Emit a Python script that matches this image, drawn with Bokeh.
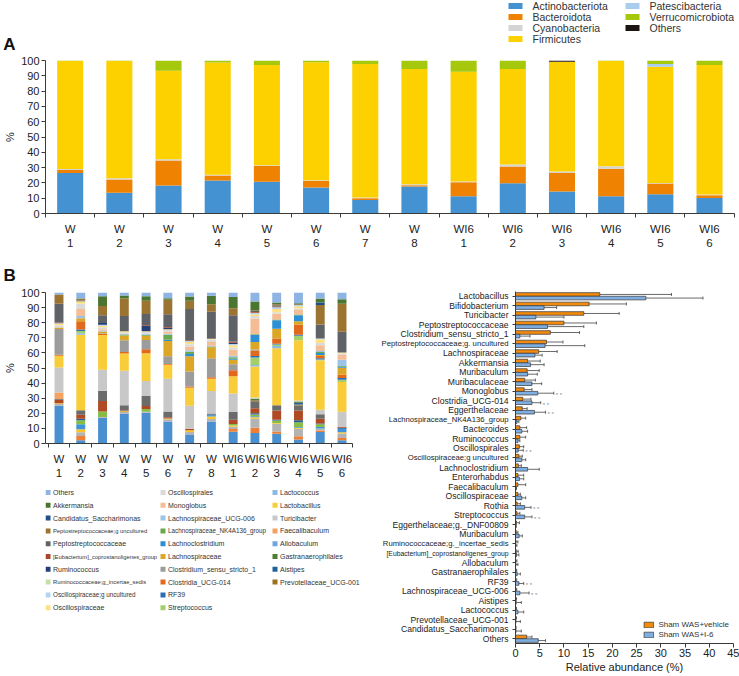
from bokeh.plotting import figure
from bokeh.models import (ColumnDataSource, Range1d, FixedTicker, LinearAxis, Legend,
                          LegendItem, Whisker, TeeHead)
from bokeh.layouts import column, row
from bokeh.embed import file_html
from bokeh.resources import INLINE
from bokeh.core.properties import value

FONT = "Liberation Sans"

# ---------------- data ----------------
samples = ["W 1", "W 2", "W 3", "W 4", "W 5", "W 6", "W 7", "W 8",
           "WI6 1", "WI6 2", "WI6 3", "WI6 4", "WI6 5", "WI6 6"]
pct_ticks = [0, 10, 20, 30, 40, 50, 60, 70, 80, 90, 100]
abund_ticks = [0, 5, 10, 15, 20, 25, 30, 35, 40, 45]

# Panel A (phylum level, %)
phyla = ["Actinobacteriota", "Bacteroidota", "Cyanobacteria", "Firmicutes",
         "Patescibacteria", "Verrucomicrobiota", "Others"]
actinobacteriota = [26.5, 13.5, 18.3, 21.5, 20.7, 17.0, 8.9, 17.6, 11.3, 19.8, 14.3, 11.3, 12.6, 10.2]
bacteroidota = [2.0, 8.7, 16.3, 3.3, 10.4, 4.3, 1.1, 0.9, 9.1, 10.9, 12.2, 18.0, 7.0, 1.8]
cyanobacteria = [0.6, 0.8, 0.8, 0.6, 0.4, 0.4, 0.4, 0.6, 0.5, 1.3, 0.9, 1.6, 0.3, 0.4]
firmicutes = [70.6, 76.7, 57.9, 73.3, 65.5, 77.1, 87.3, 75.3, 71.7, 62.4, 71.8, 68.8, 76.0, 84.6]
patescibacteria = [0, 0, 0, 0, 0, 0, 0, 0, 0, 0, 0, 0, 1.8, 0]
verrucomicrobiota = [0.3, 0.3, 6.7, 1.3, 3.0, 1.2, 2.3, 5.6, 7.4, 5.6, 0, 0.3, 2.3, 3.0]
others_phylum = [0, 0, 0, 0, 0, 0, 0, 0, 0, 0, 0.8, 0, 0, 0]
phylum_colors = ["#4592d2", "#ef8200", "#d4d4d4", "#fdd100", "#a9cdee", "#a5c80c", "#1c1412"]

# Panel B (genus level, %), stacked bottom -> top
bifidobacterium = [25, 2.2, 17, 19.7, 20.4, 14.6, 5.6, 14.5, 7.8, 7, 6.5, 2.6, 7.6, 2.2]
muribaculum = [0, 2.8, 0, 0, 0, 0, 0, 0, 1.8, 3.4, 1.5, 2.2, 1, 1.4]
muribaculaceae = [1.2, 2.5, 0.6, 1.2, 0.6, 1.4, 2, 1.8, 1.5, 6, 5, 5, 1.4, 3]
eggerthelaceae = [0.5, 2, 0, 0.4, 0, 0.6, 1.2, 1.6, 0.8, 1, 0.5, 0.6, 0, 0.8]
bacteroides = [0, 3.3, 0, 0, 0, 0, 0, 0.8, 0, 0.6, 0, 0.5, 1, 2.4]
enterorhabdus = [0, 2.6, 3.6, 0, 1.8, 0, 0, 0, 1, 1.2, 1.8, 3.2, 1.8, 0]
rothia = [0, 1, 0, 0, 0, 0, 0, 0.5, 0, 0.8, 0.5, 1.3, 0.4, 0.6]
eggerthelaceae_dnf00809 = [2.2, 2.6, 7, 0.6, 2, 0.8, 1, 0, 2.8, 3.4, 6, 6.4, 3.2, 0.5]
muribaculum_b = [0.6, 3, 6.8, 3.4, 6.6, 3.8, 0, 0.6, 5.4, 4.6, 3.5, 3.4, 3, 0]
prevotellaceae_ucg001 = [0, 0, 0, 0, 0, 0, 0, 0, 0, 0.6, 0, 0.6, 0, 0]
aistipes = [0, 0, 0, 0, 0, 0, 0, 0, 0, 0, 0, 1.2, 0, 0]
gastranaerophilales = [0, 0, 0, 0, 0, 0, 0, 0, 0, 1, 0, 0.8, 0, 0]
allobaculum = [0, 0, 0, 0, 0, 0, 0, 0, 0, 0, 0, 0, 0, 0]
faecalibaculum = [4.3, 0, 0, 0, 0, 0, 0, 0, 0, 0, 0, 0, 0, 0]
turicibacter = [16.5, 0, 13.8, 22.8, 10, 21.6, 15.2, 15, 12, 0.8, 0, 0.6, 3, 10.2]
lactobacillus = [7.8, 50, 23, 11.5, 18.4, 9.4, 12, 8, 11.4, 20.6, 37.7, 40, 32.6, 19.7]
lactococcus = [0, 1, 0, 0, 0, 0, 0, 0, 0, 1, 1.5, 0, 0, 0]
streptococcus = [0, 1.5, 0, 0, 0, 0, 0, 0, 0, 5, 1, 3, 0.6, 1.5]
rf39 = [0, 1, 0, 0, 0, 0, 0, 0, 0, 1, 0.5, 0.6, 0.8, 1]
clostridia_ucg014 = [0.7, 5.5, 0.8, 1, 2.6, 0.5, 0.7, 1, 4, 3.6, 3.5, 6.6, 1.6, 2.3]
clostridium_ss1 = [17, 0, 0.4, 7.8, 6.2, 5, 10, 12.7, 4, 0.6, 0, 0, 0, 0]
lachnospiraceae = [1, 2, 1.2, 3.2, 2.8, 10.2, 10, 7.3, 3, 5, 6.5, 2.4, 0.6, 4.6]
lachnoclostridium = [0, 0, 0, 0, 0, 0.8, 1.5, 0, 0.6, 4.6, 5.6, 4, 1.4, 0.6]
lachno_nk4a136 = [0, 0, 0, 0.6, 0.6, 3.4, 1.6, 0.5, 1, 0.6, 0.6, 0.4, 0.6, 0.6]
lachno_ucg006 = [0, 1.5, 0.6, 0.5, 0.6, 0.6, 1, 0.5, 1, 0, 0, 0, 0.6, 4]
monoglobus = [0, 4.5, 0.8, 0, 0, 1.5, 2.5, 2.5, 4, 10.4, 3.8, 3, 3.8, 3.2]
oscillospirales = [1.5, 3.5, 1.4, 1, 1.2, 1, 1.5, 1.5, 1.5, 1.6, 1, 1, 1.5, 1]
oscillospiraceae = [1, 1.2, 1, 0.6, 0.6, 0.5, 1.5, 0.5, 1.5, 1.2, 2, 1.5, 2.5, 0.6]
oscillospiraceae_g_unc = [0.3, 0, 0.6, 0, 0, 0, 0.5, 0, 0.8, 1, 1.2, 0.8, 0.5, 0]
ruminococcaceae_incertae = [0, 0.5, 0, 0, 0, 0, 0, 0, 0, 0, 0, 0, 0, 0]
ruminococcus = [0, 0, 1.2, 0, 3.4, 1, 0, 0, 0.8, 0, 0, 0, 0, 0]
eubacterium_copro = [0.5, 0, 0, 0, 0.5, 0.5, 0.6, 0, 0.8, 0.5, 0.5, 0, 0, 0]
peptostreptococcaceae = [12.5, 0.5, 5.2, 10.2, 7.5, 8.4, 20.6, 18, 17.5, 0.6, 0.8, 0, 9.3, 13.8]
peptostrep_g_unc = [6, 1, 6, 11.5, 8.7, 9.6, 5.6, 5, 4.5, 0.5, 0.8, 0.6, 13, 18.6]
candidatus_saccharimonas = [0, 0, 0, 0, 0, 0, 0, 0, 0, 0, 0, 0, 1.6, 0]
akkermansia = [0, 0.3, 6.5, 2, 3, 1, 2.8, 5.5, 7.5, 5.8, 1, 0.5, 2.6, 3]
others_genus = [1.4, 4, 2.5, 2, 2.5, 3.8, 2.6, 2.2, 3, 6, 6.7, 7.2, 4, 4.4]

genus_stack = [
    ("Bifidobacterium", "#4a8fd0", bifidobacterium),
    ("Muribaculum", "#ee8035", muribaculum),
    ("Muribaculaceae", "#b3b3b3", muribaculaceae),
    ("Eggerthelaceae", "#fcc52a", eggerthelaceae),
    ("Bacteroides", "#3f93d9", bacteroides),
    ("Enterorhabdus", "#86bd45", enterorhabdus),
    ("Rothia", "#1f5c9a", rothia),
    ("Eggerthelaceae;g._DNF00809", "#b04a25", eggerthelaceae_dnf00809),
    ("Muribaculum_b", "#6b6b6b", muribaculum_b),
    ("Prevotellaceae_UCG-001", "#9a7222", prevotellaceae_ucg001),
    ("Aistipes", "#22609a", aistipes),
    ("Gastranaerophilales", "#4e7d34", gastranaerophilales),
    ("Allobaculum", "#6fa6dc", allobaculum),
    ("Faecalibaculum", "#f4a262", faecalibaculum),
    ("Turicibacter", "#c8c8c8", turicibacter),
    ("Lactobacillus", "#f9cd3a", lactobacillus),
    ("Lactococcus", "#8bb9e6", lactococcus),
    ("Streptococcus", "#a3cf6a", streptococcus),
    ("RF39", "#2f6cb8", rf39),
    ("Clostridia_UCG-014", "#e2681c", clostridia_ucg014),
    ("Clostridium_sensu_stricto_1", "#9c9c9c", clostridium_ss1),
    ("Lachnospiraceae", "#dca726", lachnospiraceae),
    ("Lachnoclostridium", "#2d8fd6", lachnoclostridium),
    ("Lachnospiraceae_NK4A136_group", "#6aa84f", lachno_nk4a136),
    ("Lachnospiraceae_UCG-006", "#9dc3e6", lachno_ucg006),
    ("Monoglobus", "#f5bd95", monoglobus),
    ("Oscillospirales", "#dadada", oscillospirales),
    ("Oscillospiraceae", "#ffe083", oscillospiraceae),
    ("Oscillospiraceae;g uncultured", "#b4d3ee", oscillospiraceae_g_unc),
    ("Ruminococcaceae;g_incertae_sedis", "#c4e0a6", ruminococcaceae_incertae),
    ("Ruminococcus", "#243f77", ruminococcus),
    ("[Eubacterium]_coprostanoligenes_group", "#a8452a", eubacterium_copro),
    ("Peptostreptococcaceae", "#5f6266", peptostreptococcaceae),
    ("Peptostreptococcaceae;g uncultured", "#9b7432", peptostrep_g_unc),
    ("Candidatus_Saccharimonas", "#1e4e8c", candidatus_saccharimonas),
    ("Akkermansia", "#4a7631", akkermansia),
    ("Others", "#8db4e2", others_genus),
]
n_legend_b = 28

# Right panel: relative abundance (%) mean and SD
genus_r = ["Lactobacillus", "Bifidobacterium", "Turicibacter", "Peptostreptococcaceae",
           "Clostridium_sensu_stricto_1", "Peptostreptococcaceae;g. uncultured", "Lachnospiraceae",
           "Akkermansia", "Muribaculum", "Muribaculaceae", "Monoglobus", "Clostridia_UCG-014",
           "Eggerthelaceae", "Lachnospiraceae_NK4A136_group", "Bacteroides", "Ruminococcus",
           "Oscillospirales", "Oscillospiraceae;g uncultured", "Lachnoclostridium", "Enterorhabdus",
           "Faecalibaculum", "Oscillospiraceae", "Rothia", "Streptococcus",
           "Eggerthelaceae;g._DNF00809", "Muribaculum", "Ruminococcaceae;g._incertae_sedis",
           "[Eubacterium]_coprostanoligenes_group", "Allobaculum", "Gastranaerophilales", "RF39",
           "Lachnospiraceae_UCG-006", "Aistipes", "Lactococcus", "Prevotellaceae_UCG-001",
           "Candidatus_Saccharimonas", "Others"]
vehicle_mean = [17.4, 15.2, 14.1, 10.0, 7.2, 6.4, 4.8, 2.5, 2.4, 1.9, 1.8, 1.5, 1.4, 1.1, 0.9, 0.9,
                0.8, 0.7, 0.6, 0.5, 0.5, 0.5, 0.35, 0.3, 0.2, 0.15, 0.1, 0.15, 0.05, 0.05, 0.05,
                0.05, 0.05, 0.05, 0.05, 0.02, 2.3]
vehicle_sd = [14.8, 7.7, 7.3, 6.7, 6.0, 3.4, 3.8, 2.6, 2.5, 2.2, 1.6, 1.7, 1.0, 1.0, 1.4, 1.2,
              0.9, 0.7, 0.6, 1.2, 1.6, 0.5, 0.65, 0.6, 0.6, 0.35, 0.4, 0.4, 0.25, 0.2, 0.2,
              0.2, 0.15, 0.15, 0.15, 0.1, 1.1]
i6_mean = [26.9, 5.9, 4.2, 6.6, 0.9, 6.1, 4.0, 3.1, 2.5, 3.4, 4.6, 3.4, 3.9, 0.3, 1.3, 0.5,
           0.55, 1.3, 2.5, 0.8, 0.1, 1.3, 1.9, 1.9, 0.05, 0.75, 0.05, 0.2, 0.1, 0.35, 0.7,
           0.9, 0.15, 0.5, 0.1, 0.1, 4.7]
i6_sd = [11.8, 2.6, 5.8, 7.5, 2.1, 8.2, 1.5, 2.8, 2.0, 2.0, 3.3, 1.8, 2.3, 0.4, 1.2, 0.4,
         1.05, 0.8, 2.4, 0.9, 0.1, 0.8, 1.3, 1.5, 0.1, 0.65, 0.25, 0.5, 0.4, 0.65, 1.0,
         1.9, 1.05, 1.2, 0.9, 1.1, 1.5]
significant = ["Monoglobus", "Clostridia_UCG-014", "Eggerthelaceae", "Oscillospirales",
               "Rothia", "Streptococcus", "RF39", "Lachnospiraceae_UCG-006"]
groups = ["Sham WAS+vehicle", "Sham WAS+I-6"]
group_colors = ["#f28a0e", "#7fafe2"]

# ---------------- helpers ----------------
AX = "#3a3a3a"


def style_axis(ax, size="11px"):
    ax.axis_line_color = AX
    ax.major_tick_line_color = AX
    ax.minor_tick_line_color = AX
    ax.major_label_text_font = FONT
    ax.major_label_text_font_size = size
    ax.major_label_text_color = "#222222"
    ax.axis_label_text_font = FONT
    ax.axis_label_text_font_size = size
    ax.axis_label_text_font_style = "normal"
    ax.axis_label_text_color = "#222222"


xpos = [i + 1 for i in range(len(samples))]
bounds = [i + 0.5 for i in range(len(samples) + 1)]
xlabels = {x: s.replace(" ", "\n") for x, s in zip(xpos, samples)}


def sample_axes(p, xbounds="auto"):
    ya = LinearAxis(ticker=FixedTicker(ticks=pct_ticks), axis_label="%",
                    major_tick_out=4, major_tick_in=0, major_label_standoff=2,
                    axis_label_standoff=2)
    style_axis(ya)
    p.add_layout(ya, "left")
    xa = LinearAxis(ticker=FixedTicker(ticks=xpos, minor_ticks=bounds), bounds=xbounds,
                    major_tick_out=0, major_tick_in=0, minor_tick_out=4, minor_tick_in=0,
                    major_label_standoff=5, major_label_overrides=xlabels)
    style_axis(xa, "11.5px")
    p.add_layout(xa, "below")


def base_fig(**kw):
    p = figure(output_backend="svg", toolbar_location=None, x_axis_type=None,
               y_axis_type=None, **kw)
    p.outline_line_color = None
    p.background_fill_color = "white"
    p.border_fill_color = "white"
    return p

# ---------------- Panel A header (panel letter + legend) ----------------
sa = base_fig(width=739, height=52, x_range=Range1d(45, 734), y_range=Range1d(44, 0),
              min_border_left=45, min_border_right=5, min_border_top=0, min_border_bottom=8)
a_axis = LinearAxis(ticker=FixedTicker(ticks=[]), axis_label="A",
                    axis_label_orientation="horizontal", axis_label_standoff=30,
                    axis_label_align="end")
a_axis.axis_line_color = None
a_axis.major_tick_line_color = None
a_axis.minor_tick_line_color = None
a_axis.axis_label_text_font = FONT
a_axis.axis_label_text_font_size = "17px"
a_axis.axis_label_text_font_style = "bold"
a_axis.axis_label_text_color = "#111111"
sa.add_layout(a_axis, "left")
leg_a_cols = [508, 625]
la_x, la_tx, la_y = [], [], []
for k, name in enumerate(phyla):
    c, r = divmod(k, 4)
    la_x.append(leg_a_cols[c] + 7)
    la_tx.append(leg_a_cols[c] + 24)
    la_y.append(5.5 + 11 * r)
src_la = ColumnDataSource(dict(x=la_x, tx=la_tx, y=la_y, t=phyla, c=phylum_colors))
sa.rect(x="x", y="y", width=14, height=6, fill_color="c", line_color=None, source=src_la)
sa.text(x="tx", y="y", text="t", text_font=value(FONT), text_font_size="10.5px",
        text_baseline="middle", text_color="#333333", source=src_la)

# ---------------- Panel A ----------------
pa = base_fig(width=739, height=203, x_range=Range1d(0.498, 14.508), y_range=Range1d(0, 100),
              min_border_left=45, min_border_right=5, min_border_top=8, min_border_bottom=42)
src_a = ColumnDataSource(dict(x=xpos, Actinobacteriota=actinobacteriota, Bacteroidota=bacteroidota,
                              Cyanobacteria=cyanobacteria, Firmicutes=firmicutes,
                              Patescibacteria=patescibacteria, Verrucomicrobiota=verrucomicrobiota,
                              Others=others_phylum))
pa.vbar_stack(phyla, x="x", width=0.53, color=phylum_colors, line_color=None, source=src_a)
sample_axes(pa)

# ---------------- Panel B bars ----------------
pb = base_fig(width=372, height=226, x_range=Range1d(0.38, 15.125), y_range=Range1d(0, 100),
              min_border_left=45, min_border_right=6, min_border_top=37, min_border_bottom=35,
              title="B")
pb.title.align = "left"
pb.title.offset = -42
pb.title.standoff = 16
pb.title.text_font = FONT
pb.title.text_font_size = "17px"
pb.title.text_font_style = "bold"
pb.title.text_color = "#111111"
keys_b = ["g%02d" % i for i in range(len(genus_stack))]
data_b = dict(x=xpos)
for k, (_, _, vals) in zip(keys_b, genus_stack):
    data_b[k] = vals
src_b = ColumnDataSource(data_b)
pb.vbar_stack(keys_b, x="x", width=0.41, color=[c for _, c, _ in genus_stack],
              line_color=None, source=src_b)
sample_axes(pb, xbounds=(0.38, 14.48))

# ---------------- Panel B legend ----------------
pl = base_fig(width=372, height=195, x_range=Range1d(45, 366), y_range=Range1d(676, 481),
              min_border_left=45, min_border_right=6, min_border_top=0, min_border_bottom=0)
leg_b_cols = [45, 160, 272]
leg_items = list(reversed(genus_stack))[:n_legend_b]
lx, ly, lt, lc, lf = [], [], [], [], []
for k, (name, color, _) in enumerate(leg_items):
    c, r = divmod(k, 10)
    lx.append(leg_b_cols[c] + 2.5)
    ly.append(492 + 12.8 * r)
    lt.append(name)
    lc.append(color)
    lf.append("5.8px" if len(name) >= 32 else ("6.3px" if len(name) >= 29 else "7px"))
src_l = ColumnDataSource(dict(x=lx, tx=[v + 5 for v in lx], y=ly, t=lt, c=lc, f=lf))
pl.rect(x="x", y="y", width=5, height=5, fill_color="c", line_color=None, source=src_l)
pl.text(x="tx", y="y", text="t", text_font=value(FONT), text_font_size="f",
        text_baseline="middle", text_color="#333333", source=src_l)

# ---------------- Right panel ----------------
n = len(genus_r)
pos = list(range(n))
yr = Range1d(n - 0.5, -0.5)
src_r = ColumnDataSource(dict(
    pos=pos, genus=genus_r,
    yv=[p - 0.19 for p in pos], yi=[p + 0.19 for p in pos],
    veh=vehicle_mean, veh_hi=[m + s for m, s in zip(vehicle_mean, vehicle_sd)],
    i6=i6_mean, i6_hi=[m + s for m, s in zip(i6_mean, i6_sd)],
    fs=["6.8px" if len(g) >= 37 else ("7.7px" if len(g) >= 29 else "8.6px") for g in genus_r]))

prl = base_fig(width=137, height=421, x_range=Range1d(0, 1), y_range=yr,
               min_border_left=0, min_border_right=0, min_border_top=36, min_border_bottom=33)
prl.text(x=1, y="pos", text="genus", x_offset=-1, text_align="right", text_baseline="middle",
         text_font=value(FONT), text_font_size="fs", text_color="#222222", source=src_r)

prb = base_fig(width=230, height=421, x_range=Range1d(0, 45), y_range=yr,
               min_border_left=6, min_border_right=6, min_border_top=36, min_border_bottom=33)
rv = prb.hbar(y="yv", left=0, right="veh", height=0.38, fill_color=group_colors[0],
              line_color="#333333", line_width=0.7, source=src_r)
ri = prb.hbar(y="yi", left=0, right="i6", height=0.38, fill_color=group_colors[1],
              line_color="#333333", line_width=0.7, source=src_r)
for base, lo, hi in (("yv", "veh", "veh_hi"), ("yi", "i6", "i6_hi")):
    prb.add_layout(Whisker(source=src_r, base=base, lower=lo, upper=hi, dimension="width",
                           line_color="#444444", line_width=0.8, lower_head=None,
                           upper_head=TeeHead(size=3, line_color="#444444", line_width=0.8)))
sig_idx = [genus_r.index(g) for g in significant]
src_sig = ColumnDataSource(dict(x=[i6_mean[i] + i6_sd[i] for i in sig_idx],
                                y=[pos[i] + 0.19 for i in sig_idx]))
prb.text(x="x", y="y", text=value("* *"), x_offset=2, y_offset=2, text_baseline="middle",
         text_font=value(FONT), text_font_size="6px", text_color="#888888", source=src_sig)
ya_r = LinearAxis(ticker=FixedTicker(ticks=pos), major_tick_out=3, major_tick_in=0,
                  major_label_standoff=0, major_label_overrides={p: "" for p in pos})
style_axis(ya_r)
prb.add_layout(ya_r, "left")
xa_r = LinearAxis(ticker=FixedTicker(ticks=abund_ticks), axis_label="Relative abundance (%)",
                  major_tick_out=4, major_tick_in=0, major_label_standoff=1, axis_label_standoff=1)
style_axis(xa_r, "11px")
prb.add_layout(xa_r, "below")
leg_r = Legend(items=[LegendItem(label=groups[0], renderers=[rv]),
                      LegendItem(label=groups[1], renderers=[ri])],
               location="bottom_right", label_text_font=FONT, label_text_font_size="8px",
               label_text_color="#333333", glyph_width=12, glyph_height=7, label_height=8,
               label_standoff=4, spacing=1, padding=2, margin=4,
               border_line_color=None, background_fill_alpha=0)
prb.add_layout(leg_r)

layout = column(sa, pa, row(column(pb, pl), prl, prb))
open("out.html", "w").write(file_html(layout, INLINE))
